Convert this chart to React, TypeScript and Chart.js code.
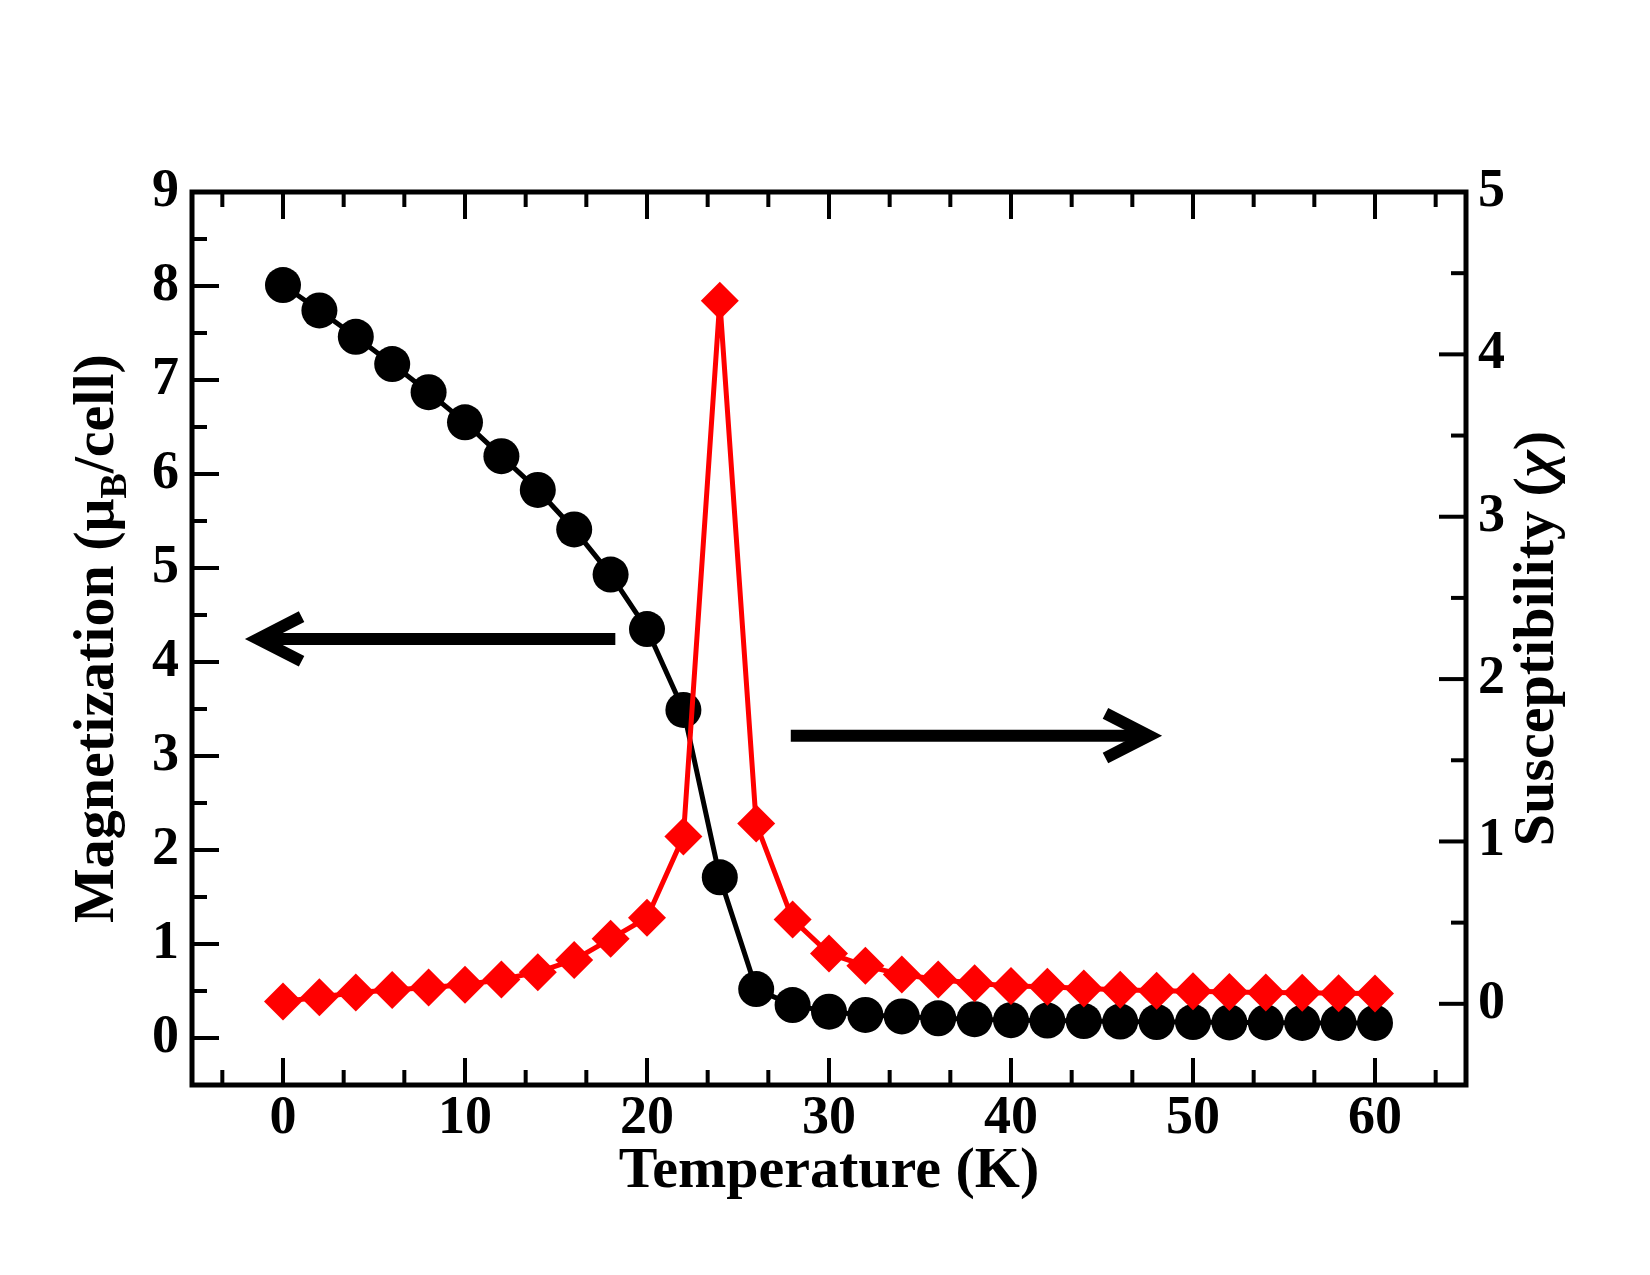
import { useEffect, useRef } from "react";
import { Chart, registerables } from "chart.js";

Chart.register(...registerables);

// Temperature sweep (K)
const temperature = [
  0, 2, 4, 6, 8, 10, 12, 14, 16, 18, 20, 22, 24, 26, 28, 30,
  32, 34, 36, 38, 40, 42, 44, 46, 48, 50, 52, 54, 56, 58, 60,
];

// Magnetization per cell (μB/cell), left axis
const magnetization = [
  8.01, 7.74, 7.46, 7.17, 6.87, 6.55, 6.19, 5.83, 5.41, 4.93, 4.35, 3.49, 1.71,
  0.52, 0.35, 0.28, 0.245, 0.23, 0.21, 0.2, 0.19, 0.185, 0.18, 0.175, 0.17,
  0.17, 0.165, 0.165, 0.16, 0.16, 0.16,
];

// Magnetic susceptibility χ, right axis
const susceptibility = [
  0.014, 0.04, 0.07, 0.085, 0.1, 0.117, 0.15, 0.195, 0.27, 0.4, 0.53, 1.03, 4.33,
  1.11, 0.52, 0.31, 0.234, 0.18, 0.15, 0.127, 0.11, 0.105, 0.094, 0.086, 0.08,
  0.077, 0.073, 0.07, 0.068, 0.065, 0.063,
];

const temperatureTicks = [0, 10, 20, 30, 40, 50, 60];
const magnetizationTicks = [0, 1, 2, 3, 4, 5, 6, 7, 8, 9];
const susceptibilityTicks = [0, 1, 2, 3, 4, 5];

const TEMP_RANGE = [-5, 65];
const MAG_RANGE = [-0.5, 9];
const CHI_RANGE = [-0.5, 5];
const TEMP_MINOR_STEP = 10 / 3;
const MAG_MINOR_STEP = 0.5;
const CHI_MINOR_STEP = 0.5;

// Guide arrows: tail / tip temperature and magnetization level
const arrows = [
  { from: 18.26, to: -1.37, level: 4.245 },
  { from: 27.9, to: 47.58, level: 3.216 },
];

const FONT_FAMILY = '"Liberation Serif", "Times New Roman", Times, serif';
const TICK_SIZE = 54;
const TITLE_SIZE = 58;

const minorValues = (min: number, max: number, step: number, majors: number[]) => {
  const out: number[] = [];
  const k0 = Math.ceil(min / step - 1e-9);
  const k1 = Math.floor(max / step + 1e-9);
  for (let k = k0; k <= k1; k++) {
    const v = k * step;
    if (Math.abs(v - min) < 1e-6 || Math.abs(v - max) < 1e-6) continue;
    if (majors.some((m) => Math.abs(m - v) < 1e-6)) continue;
    out.push(v);
  }
  return out;
};

type Run = { text: string; font: string; dy: number };

// draws a horizontal run of mixed-font text centred on the origin
const drawRuns = (ctx: CanvasRenderingContext2D, runs: Run[]) => {
  let total = 0;
  runs.forEach((r) => {
    ctx.font = r.font;
    total += ctx.measureText(r.text).width;
  });
  ctx.textAlign = "left";
  let cx = -total / 2;
  runs.forEach((r) => {
    ctx.font = r.font;
    ctx.fillText(r.text, cx, r.dy);
    cx += ctx.measureText(r.text).width;
  });
};

const framePlugin = {
  id: "frameTicksTitles",
  afterDraw(chart: any) {
    const { ctx, chartArea, scales } = chart;
    const { left, right, top, bottom } = chartArea;
    const xs = scales.x;
    const yM = scales.yM;
    const yC = scales.yC;
    const MAJOR = 27;
    const MINOR = 15;

    ctx.save();
    ctx.strokeStyle = "#000";
    ctx.fillStyle = "#000";
    ctx.lineCap = "butt";

    // frame
    ctx.lineWidth = 5;
    ctx.strokeRect(left, top, right - left, bottom - top);

    // inward ticks
    ctx.lineWidth = 4;
    const vTick = (px: number, len: number) => {
      ctx.beginPath();
      ctx.moveTo(px, bottom);
      ctx.lineTo(px, bottom - len);
      ctx.moveTo(px, top);
      ctx.lineTo(px, top + len);
      ctx.stroke();
    };
    temperatureTicks.forEach((v) => vTick(xs.getPixelForValue(v), MAJOR));
    minorValues(TEMP_RANGE[0], TEMP_RANGE[1], TEMP_MINOR_STEP, temperatureTicks).forEach((v) =>
      vTick(xs.getPixelForValue(v), MINOR)
    );

    const hTick = (py: number, x0: number, dir: number, len: number) => {
      ctx.beginPath();
      ctx.moveTo(x0, py);
      ctx.lineTo(x0 + dir * len, py);
      ctx.stroke();
    };
    magnetizationTicks.forEach((v) => hTick(yM.getPixelForValue(v), left, 1, MAJOR));
    minorValues(MAG_RANGE[0], MAG_RANGE[1], MAG_MINOR_STEP, magnetizationTicks).forEach((v) =>
      hTick(yM.getPixelForValue(v), left, 1, MINOR)
    );
    susceptibilityTicks.forEach((v) => hTick(yC.getPixelForValue(v), right, -1, MAJOR));
    minorValues(CHI_RANGE[0], CHI_RANGE[1], CHI_MINOR_STEP, susceptibilityTicks).forEach((v) =>
      hTick(yC.getPixelForValue(v), right, -1, MINOR)
    );

    // arrows
    ctx.lineWidth = 12;
    ctx.lineJoin = "miter";
    ctx.miterLimit = 10;
    arrows.forEach((a) => {
      const x0 = xs.getPixelForValue(a.from);
      const x1 = xs.getPixelForValue(a.to);
      const y = yM.getPixelForValue(a.level);
      const dir = x1 > x0 ? -1 : 1;
      ctx.beginPath();
      ctx.moveTo(x0, y);
      ctx.lineTo(x1, y);
      ctx.stroke();
      ctx.beginPath();
      ctx.moveTo(x1 + dir * 43.5, y - 22.3);
      ctx.lineTo(x1, y);
      ctx.lineTo(x1 + dir * 43.5, y + 22.3);
      ctx.stroke();
    });

    // axis titles
    const titleFont = `bold ${TITLE_SIZE}px ${FONT_FAMILY}`;
    const italicFont = `italic bold ${TITLE_SIZE}px ${FONT_FAMILY}`;
    const subFont = `bold ${Math.round(TITLE_SIZE * 0.65)}px ${FONT_FAMILY}`;
    ctx.textBaseline = "alphabetic";

    ctx.font = titleFont;
    ctx.textAlign = "center";
    ctx.fillText("Temperature (K)", (left + right) / 2, bottom + 102);

    const midY = (top + bottom) / 2;

    // left title with subscript
    ctx.save();
    ctx.translate(left - 79, midY);
    ctx.rotate(-Math.PI / 2);
    drawRuns(ctx, [
      { text: "Magnetization (\u03bc", font: titleFont, dy: 0 },
      { text: "B", font: subFont, dy: TITLE_SIZE * 0.22 },
      { text: "/cell)", font: titleFont, dy: 0 },
    ]);
    ctx.restore();

    // right title
    ctx.save();
    ctx.translate(right + 87, midY);
    ctx.rotate(-Math.PI / 2);
    drawRuns(ctx, [
      { text: "Susceptibility (", font: titleFont, dy: 0 },
      { text: "\u03c7", font: italicFont, dy: 0 },
      { text: ")", font: titleFont, dy: 0 },
    ]);
    ctx.restore();

    ctx.restore();
  },
};

export default function App() {
  const canvasRef = useRef<HTMLCanvasElement | null>(null);

  useEffect(() => {
    const canvas = canvasRef.current;
    if (!canvas) return;
    const tickFont = { family: FONT_FAMILY, size: TICK_SIZE, weight: "bold" as const };

    const chart = new Chart(canvas, {
      type: "line",
      data: {
        datasets: [
          {
            label: "Susceptibility",
            data: temperature.map((t, i) => ({ x: t, y: susceptibility[i] })),
            yAxisID: "yC",
            borderColor: "#ff0000",
            backgroundColor: "#ff0000",
            borderWidth: 5,
            pointStyle: "rectRot",
            pointRadius: 19,
            pointBorderWidth: 0,
            pointBackgroundColor: "#ff0000",
            tension: 0,
            order: 1,
          },
          {
            label: "Magnetization",
            data: temperature.map((t, i) => ({ x: t, y: magnetization[i] })),
            yAxisID: "yM",
            borderColor: "#000000",
            backgroundColor: "#000000",
            borderWidth: 5,
            pointStyle: "circle",
            pointRadius: 18,
            pointBorderWidth: 0,
            pointBackgroundColor: "#000000",
            tension: 0,
            order: 2,
          },
        ],
      },
      options: {
        animation: false,
        responsive: false,
        events: [],
        layout: { padding: { top: 192, left: 0, right: 0, bottom: 0 } },
        plugins: { legend: { display: false }, tooltip: { enabled: false } },
        scales: {
          x: {
            type: "linear",
            position: "bottom",
            min: TEMP_RANGE[0],
            max: TEMP_RANGE[1],
            afterBuildTicks: (s: any) => {
              s.ticks = temperatureTicks.map((v) => ({ value: v }));
            },
            afterFit: (s: any) => {
              s.height = 190;
            },
            grid: { display: false, drawTicks: false },
            border: { display: false },
            ticks: { font: tickFont, color: "#000", padding: 2, autoSkip: false, maxRotation: 0 },
          },
          yM: {
            type: "linear",
            position: "left",
            min: MAG_RANGE[0],
            max: MAG_RANGE[1],
            afterBuildTicks: (s: any) => {
              s.ticks = magnetizationTicks.map((v) => ({ value: v }));
            },
            afterFit: (s: any) => {
              s.width = 192;
            },
            grid: { display: false, drawTicks: false },
            border: { display: false },
            ticks: { font: tickFont, color: "#000", padding: 13, autoSkip: false },
          },
          yC: {
            type: "linear",
            position: "right",
            min: CHI_RANGE[0],
            max: CHI_RANGE[1],
            afterBuildTicks: (s: any) => {
              s.ticks = susceptibilityTicks.map((v) => ({ value: v }));
            },
            afterFit: (s: any) => {
              s.width = 184;
            },
            grid: { display: false, drawTicks: false },
            border: { display: false },
            ticks: { font: tickFont, color: "#000", padding: 12, autoSkip: false },
          },
        },
      },
      plugins: [framePlugin],
    });

    return () => chart.destroy();
  }, []);

  return (
    <div
      style={{
        position: "absolute",
        left: 0,
        top: 0,
        width: 1650,
        height: 1275,
        background: "#ffffff",
      }}
    >
      <canvas ref={canvasRef} width={1650} height={1275} style={{ display: "block" }} />
    </div>
  );
}
